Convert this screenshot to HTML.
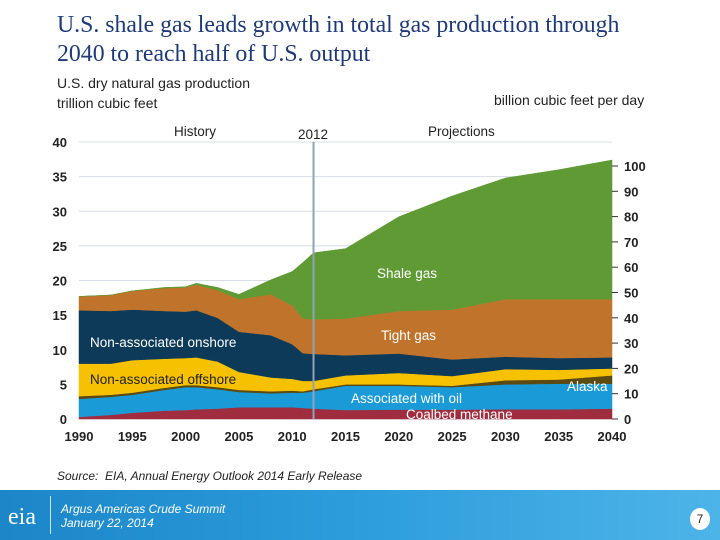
<!DOCTYPE html>
<html><head><meta charset="utf-8"><style>
body{margin:0;width:720px;height:540px;overflow:hidden;background:#fff;font-family:"Liberation Sans",sans-serif;position:relative}
.t{position:absolute;white-space:nowrap}
</style></head><body>
<div class="t" style="left:57px;top:11px;font-family:'Liberation Serif',serif;font-size:23.8px;line-height:29px;color:#1f3a7a">U.S. shale gas leads growth in total gas production through<br>2040 to reach half of U.S. output</div>
<div class="t" style="left:57px;top:73px;font-size:14px;line-height:20px;color:#222">U.S. dry natural gas production<br>trillion cubic feet</div>
<div class="t" style="left:494px;top:92px;font-size:14px;color:#222">billion cubic feet per day</div>
<svg id="c" width="720" height="540" style="position:absolute;left:0;top:0"></svg>
<div class="t" style="left:57px;top:469px;font-size:12px;font-style:italic;color:#222">Source:&nbsp; EIA, Annual Energy Outlook 2014 Early Release</div>
<div style="position:absolute;left:0;top:490px;width:720px;height:50px;background:linear-gradient(90deg,#1b86c8,#2d9ddc 50%,#4db4e8)">
 <div class="t" style="left:8px;top:14px;font-family:'Liberation Serif',serif;font-size:24px;color:#fff">eia</div>
 <div style="position:absolute;left:50px;top:6px;width:1px;height:38px;background:#cfe8f7"></div>
 <div class="t" style="left:61px;top:12px;font-size:12px;line-height:14px;font-style:italic;color:#fff">Argus Americas Crude Summit<br>January 22, 2014</div>
 <div class="t" style="left:690px;top:18px;width:20px;height:22px;border-radius:50%;background:#fff;color:#222;font-size:12px;text-align:center;line-height:22px">7</div>
</div>
<script>
const years=[1990,1993,1995,1998,2000,2001,2003,2005,2008,2010,2011,2012,2015,2020,2025,2030,2035,2040];
const coalbed=[0.3,0.6,0.9,1.2,1.3,1.4,1.5,1.7,1.7,1.7,1.6,1.5,1.3,1.35,1.35,1.4,1.4,1.5];
const assocOil=[2.6,2.6,2.6,3.0,3.3,3.2,2.8,2.2,2.0,2.1,2.2,2.5,3.5,3.45,3.25,3.6,3.7,3.6];
const alaska=[0.4,0.3,0.3,0.3,0.3,0.3,0.3,0.3,0.3,0.3,0.2,0.3,0.2,0.2,0.2,0.6,0.6,1.2];
const offshore=[4.7,4.5,4.7,4.2,3.9,4.0,3.7,2.6,2.0,1.7,1.5,1.2,1.3,1.65,1.4,1.6,1.4,1.0];
const onshore=[7.7,7.6,7.3,6.9,6.7,6.8,6.3,5.8,6.1,5.0,4.0,3.9,2.9,2.8,2.4,1.8,1.7,1.6];
const tight=[2.0,2.3,2.7,3.3,3.5,3.7,4.0,4.7,5.9,5.6,5.0,5.0,5.3,6.15,7.2,8.3,8.5,8.4];
const shale=[0,0,0,0.1,0.1,0.2,0.4,0.7,2.1,4.9,8.1,9.6,10.1,13.6,16.4,17.5,18.7,20.1];
const leftTicks=[0,5,10,15,20,25,30,35,40];
const rightTicks=[0,10,20,30,40,50,60,70,80,90,100];
const xTicks=[1990,1995,2000,2005,2010,2015,2020,2025,2030,2035,2040];
const X=y=>79+(y-1990)*(612-79)/50;
const Y=v=>419-v*(419-142)/40;
const YR=v=>419-v*(419-166)/100;
const svg=document.getElementById('c');const NS='http://www.w3.org/2000/svg';
function mk(t,a){const e=document.createElementNS(NS,t);for(const k in a)e.setAttribute(k,a[k]);svg.appendChild(e);return e;}
leftTicks.forEach(v=>{
 const g=mk('line',{x1:79,x2:612,y1:Y(v),y2:Y(v),stroke:'#d8dde3','stroke-width':1});
 
 
 const t=mk('text',{x:67,y:Y(v)+5,'text-anchor':'end','font-size':13,'font-weight':'bold',fill:'#222','font-family':'Liberation Sans,sans-serif'});t.textContent=v;
 
 
});
const layers=[[coalbed,'#a02d3f','coalbed-methane'],[assocOil,'#1a9ad7','associated-with-oil'],[alaska,'#5b4a12','alaska'],[offshore,'#f6c100','non-associated-offshore'],[onshore,'#0c3a58','non-associated-onshore'],[tight,'#c0742b','tight-gas'],[shale,'#5f9a35','shale-gas']];
let base=years.map(()=>0);
layers.forEach(([arr,col,name])=>{
 const top=base.map((b,i)=>b+arr[i]);
 let d='M'+years.map((y,i)=>X(y)+','+Y(top[i])).join('L');
 for(let i=years.length-1;i>=0;i--)d+='L'+X(years[i])+','+Y(base[i]);
 const p=mk('path',{d:d+'Z',fill:col,stroke:col,'stroke-width':0.5});
 
 
 base=top;
});
const vl=mk('line',{x1:X(2012),x2:X(2012),y1:142,y2:419,stroke:'#8ea4b6','stroke-width':2});


xTicks.forEach(v=>{const t=mk('text',{x:X(v),y:441,'text-anchor':'middle','font-size':13,'font-weight':'bold',fill:'#222','font-family':'Liberation Sans,sans-serif'});t.textContent=v;
 
 });
rightTicks.forEach(v=>{mk('line',{x1:612,x2:618,y1:YR(v),y2:YR(v),stroke:'#333'});
 const t=mk('text',{x:624,y:YR(v)+5,'font-size':13,'font-weight':'bold',fill:'#222','font-family':'Liberation Sans,sans-serif'});t.textContent=v;
 
 });
const labels=[['History',174,136,'#222','history-label'],['2012',298,139,'#222','year-2012-label'],['Projections',428,136,'#222','projections-label'],['Shale gas',377,278,'#fff','shale-gas-label'],['Tight gas',381,340,'#fff','tight-gas-label'],['Non-associated onshore',90,347,'#fff','onshore-label'],['Non-associated offshore',90,384,'#222','offshore-label'],['Associated with oil',351,403,'#fff','assoc-oil-label'],['Coalbed methane',406,419,'#fff','coalbed-label'],['Alaska',567,391,'#fff','alaska-label']];
labels.forEach(([s,x,y,c,n])=>{const t=mk('text',{x:x,y:y,'font-size':13.5,fill:c,'font-family':'Liberation Sans,sans-serif'});t.textContent=s;
 
 });
</script>
</body></html>
